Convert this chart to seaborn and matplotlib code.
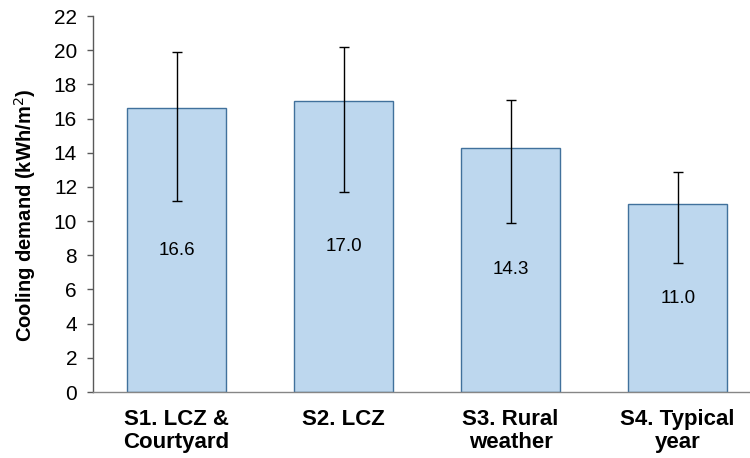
import matplotlib
matplotlib.use("Agg")
import matplotlib.pyplot as plt
import seaborn as sns
import numpy as np
import pandas as pd

# 数据
scenarios = ['S1. LCZ &\nCourtyard', 'S2. LCZ', 'S3. Rural\nweather', 'S4. Typical\nyear']
cooling = [16.6, 17.0, 14.3, 11.0]
err_low = [11.2, 11.7, 9.9, 7.55]
err_high = [19.9, 20.2, 17.1, 12.9]
yticks = list(range(0, 23, 2))

df = pd.DataFrame({'scenario': scenarios, 'cooling': cooling})

sns.set_style('white')
plt.rcParams['font.family'] = ['Liberation Sans', 'DejaVu Sans']
plt.rcParams['text.color'] = 'black'
plt.rcParams['axes.labelcolor'] = 'black'
plt.rcParams['xtick.color'] = 'black'
plt.rcParams['ytick.color'] = 'black'

fig = plt.figure(figsize=(7.5, 4.58), dpi=100)
ax = fig.add_axes([0.124, 0.144, 0.891, 0.821])

sns.barplot(data=df, x='scenario', y='cooling', color='#BDD7EE', saturation=1,
            width=0.59, edgecolor='#41719C', linewidth=1.0, errorbar=None, ax=ax)

# 非对称误差线
vals = np.array(cooling)
yerr = [vals - np.array(err_low), np.array(err_high) - vals]
ax.errorbar(np.arange(len(cooling)), vals, yerr=yerr, fmt='none',
            ecolor='black', elinewidth=1.0, capsize=3.5, capthick=1.0)

# 数值标签
ax.bar_label(ax.containers[0], labels=[f'{v:.1f}' for v in cooling],
             label_type='center', fontsize=13.5, color='black')

ax.set_xlim(-0.5, 3.5)
ax.set_ylim(0, 22)
ax.set_yticks(yticks)
ax.tick_params(axis='y', which='both', left=True, length=4.5, width=1, color='#595959',
               labelsize=15, pad=7, labelcolor='black')
ax.tick_params(axis='x', bottom=False, labelsize=16, pad=9, labelcolor='black')
for lab in ax.get_xticklabels():
    lab.set_fontweight('bold')
    lab.set_linespacing(1.1)
ax.set_xlabel('')
ax.set_ylabel('Cooling demand (kWh/m$^2$)', fontsize=14.5, fontweight='bold',
              color='black')
ax.yaxis.set_label_coords(-0.083, 0.47)

for s in ['top', 'right']:
    ax.spines[s].set_visible(False)
ax.spines['left'].set_color('#595959')
ax.spines['bottom'].set_color('#868686')
ax.spines['left'].set_linewidth(1.0)
ax.spines['bottom'].set_linewidth(1.0)

fig.savefig('out.png', dpi=100)
